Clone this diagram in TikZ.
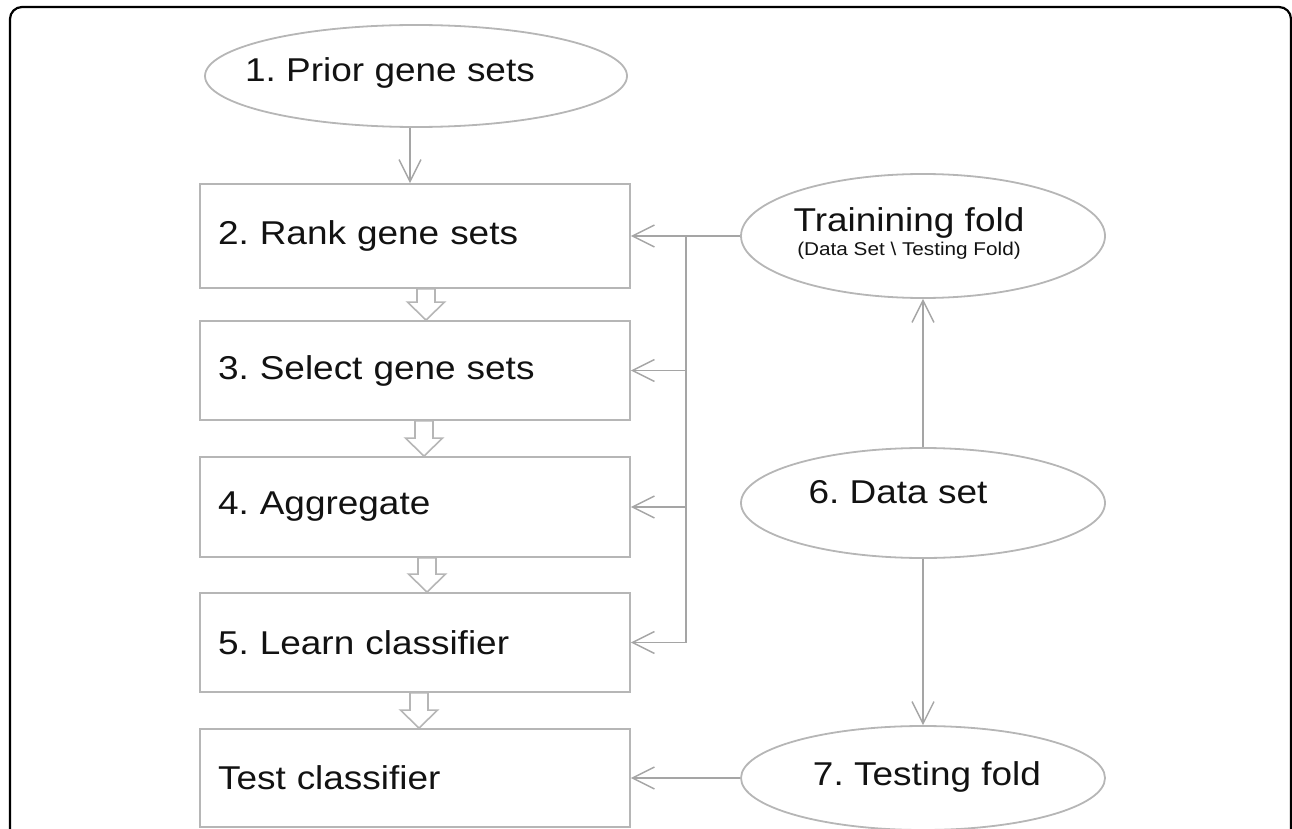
\documentclass[tikz,border=0pt]{standalone}
\usepackage{fontspec}
\setmainfont{Liberation Sans}[FakeStretch=1.12]
\usetikzlibrary{arrows.meta}
\usetikzlibrary{shapes.geometric}
\usetikzlibrary{calc}
\frenchspacing

\definecolor{boxgray}{RGB}{182,182,182}
\definecolor{wiregray}{RGB}{165,165,165}
\definecolor{inkblack}{RGB}{18,18,18}

\tikzset{
  stepbox/.style={draw=boxgray, line width=1.8pt, minimum width=430pt,
    text width=394pt, inner xsep=18pt, align=left, text=inkblack,
    font=\fontsize{33}{40}\selectfont},
  source/.style={draw=boxgray, line width=1.8pt, ellipse, inner sep=0pt},
  every label/.style={text=inkblack, font=\fontsize{33}{40}\selectfont},
  feed/.style={draw=wiregray, line width=1.4pt, -{Straight Barb[length=22pt,width=22pt]}},
  wire/.style={draw=wiregray, line width=1.4pt},
  hollow/.style={draw=boxgray, line width=1.6pt, fill=white, line join=miter}
}

% hollow block arrow from the bottom of one box to the top of the next
\newcommand{\hollowdown}[2]{%
  \draw[hollow] let \p1=(#1), \p2=(#2) in
    (\x1-9pt,\y1) -- (\x1+9pt,\y1) -- (\x1+9pt,\y2+18pt) -- (\x1+18.5pt,\y2+18pt)
    -- (\x1,\y2) -- (\x1-18.5pt,\y2+18pt) -- (\x1-9pt,\y2+18pt) -- cycle;}

\begin{document}
\begin{tikzpicture}[x=1pt,y=-1pt]
    \useasboundingbox (0,0) rectangle (1292,829);
    \begin{scope}
        \clip (0,0) rectangle (1292,829);
        \draw[black, line width=2.2pt, rounded corners=12pt] (10,7) rectangle (1291,900);
    \end{scope}

    \node[source, minimum width=422pt, minimum height=102pt,
        label={[name=priortxt, xshift=-26pt, yshift=3pt]center:1. Prior gene sets}] (prior) at (416,76) {};

    \node[stepbox, minimum height=104pt] (b2) at (415,236) {2. Rank gene sets};
    \node[stepbox, minimum height=99pt] (b3) at (415,370.5) {3. Select gene sets};
    \node[stepbox, minimum height=100pt] (b4) at (415,507) {4. Aggregate};
    \node[stepbox, minimum height=99pt] (b5) at (415,642.5) {5. Learn classifier};
    \node[stepbox, minimum height=98pt] (b6) at (415,778) {Test classifier};

    \node[source, minimum width=364pt, minimum height=124pt,
        label={[name=trtxt, align=center, xshift=-14pt, yshift=3pt, font=\fontsize{18.5}{24}\selectfont]center:{\fontsize{33}{24}\selectfont Trainining fold}\\(Data Set \textbackslash{} Testing Fold)}] (tr) at (923,236) {};
    \node[source, minimum width=364pt, minimum height=110pt,
        label={[name=dstxt, xshift=-25pt, yshift=11pt]center:6. Data set}] (ds) at (923,503) {};
    \node[source, minimum width=364pt, minimum height=104pt,
        label={[name=tetxt, xshift=4pt, yshift=1pt]center:7. Testing fold}] (te) at (923,778) {};

    \coordinate (bus) at (686,236);

    \draw[feed] ([xshift=-6pt]prior.south) -- ([xshift=-6pt]prior.south |- b2.north);

    \hollowdown{[xshift=11pt]b2.south}{b3.north}
    \hollowdown{[xshift=9pt]b3.south}{b4.north}
    \hollowdown{[xshift=12pt]b4.south}{b5.north}
    \hollowdown{[xshift=4pt]b5.south}{b6.north}

    \draw[feed] (tr.west) -- (b2.east);
    \draw[wire] (bus) -- (bus |- b5.east);
    \foreach \b in {b3,b4,b5}
        \draw[feed] (bus |- \b.east) -- (\b.east);

    \draw[feed] (ds.north) -- (tr.south);
    \draw[feed] (ds.south) -- (te.north);
    \draw[feed] (te.west) -- (b6.east);
\end{tikzpicture}
\end{document}
